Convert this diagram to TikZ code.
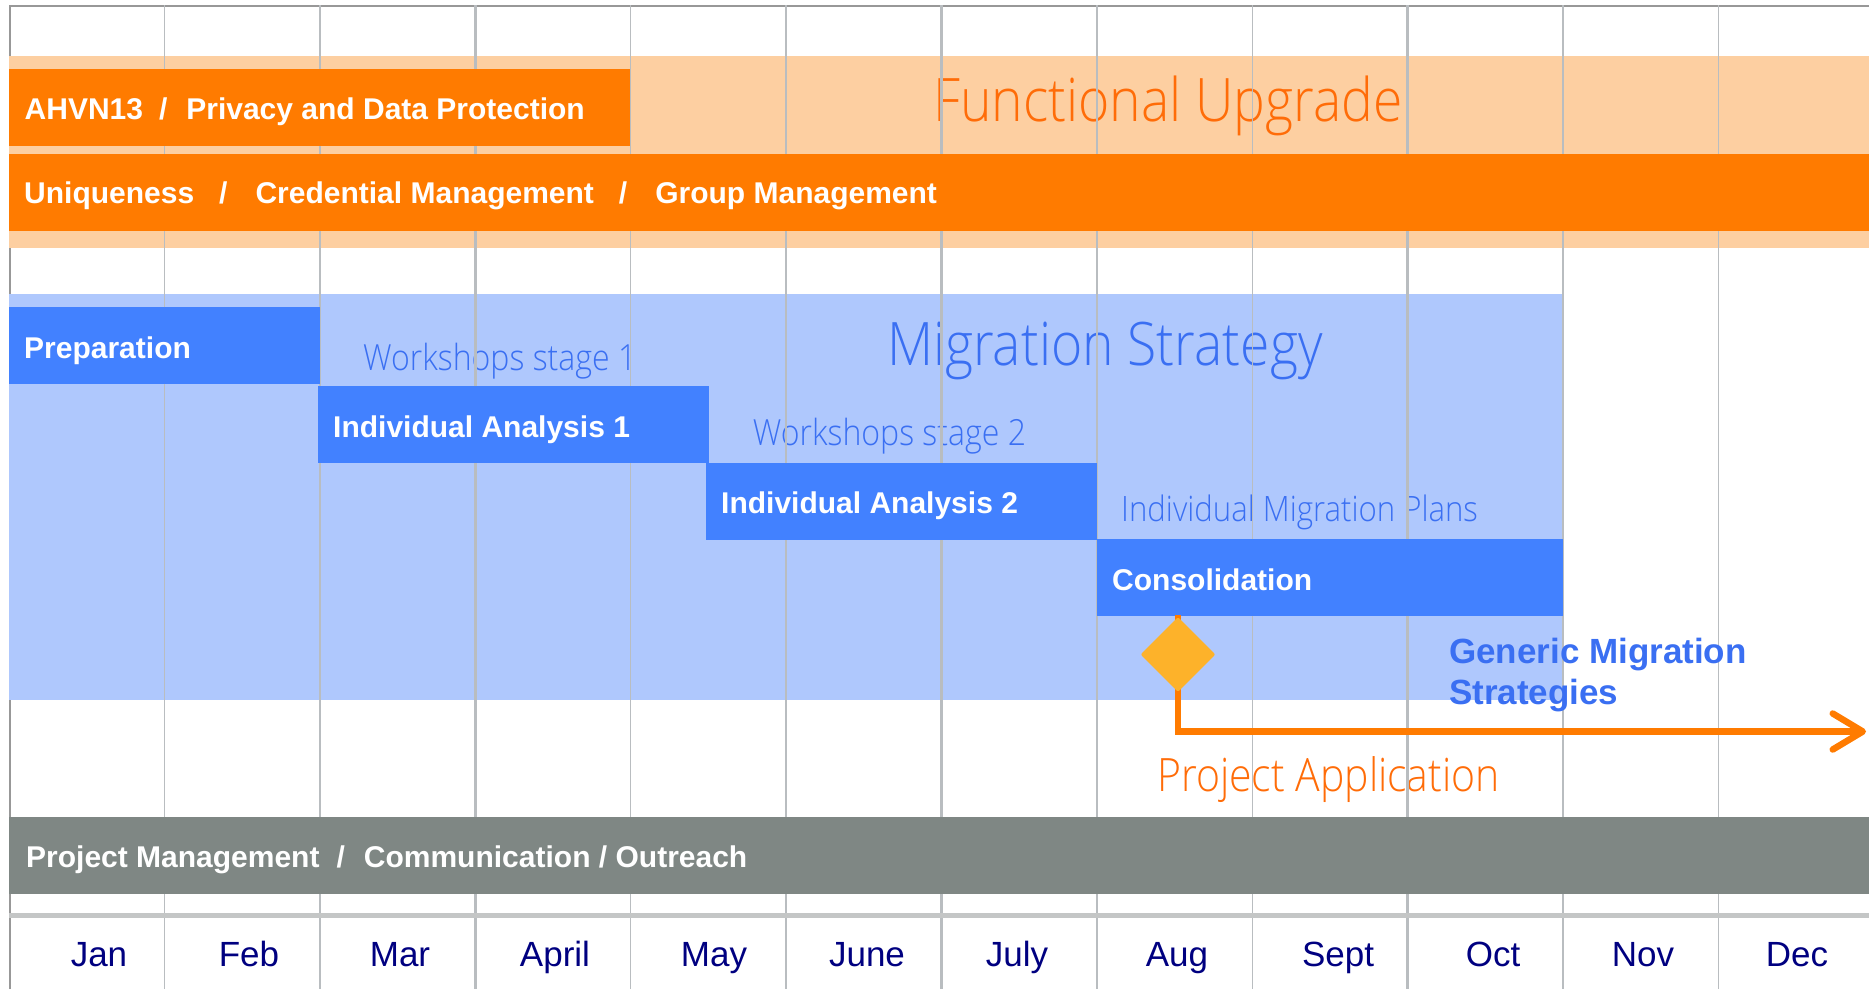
\documentclass[tikz,border=0pt]{standalone}
\usepackage{fontspec}
\setmainfont{Liberation Sans}
\IfFontExistsTF{Open Sans Light}
  {\newfontfamily\gillfont{Open Sans Light}[FakeStretch=0.89]}
  {\newfontfamily\gillfont{Open Sans}[FakeStretch=0.89]}
\usetikzlibrary{arrows.meta,shapes.geometric}

\definecolor{peach}{RGB}{253,207,161}
\definecolor{barorange}{RGB}{255,123,0}
\definecolor{txtorange}{RGB}{255,108,8}
\definecolor{paleblue}{RGB}{175,200,253}
\definecolor{barblue}{RGB}{66,129,255}
\definecolor{txtblue}{RGB}{58,111,242}
\definecolor{pmgray}{RGB}{127,135,132}
\definecolor{gridgray}{RGB}{185,189,192}
\definecolor{framegray}{RGB}{152,152,152}
\definecolor{rulegray}{RGB}{196,198,198}
\definecolor{monthblue}{RGB}{0,0,128}
\definecolor{msyellow}{RGB}{253,178,42}

\newcommand{\monthw}{155.4}
\newcommand{\barfont}{\fontsize{30}{36}\selectfont\bfseries}
\newcommand{\taskbar}[4]{%
    \fill[barblue] (#1,#2) rectangle (#3,{#2+77});
    \node[bartext] (#4) at ({#1+15},{#2+51})
}

\begin{document}
\begin{tikzpicture}[x=1pt,y=-1pt,
    bartext/.style={anchor=base west,inner sep=0pt,text=white,font=\barfont},
    thintext/.style={anchor=base west,inner sep=0pt,font=\gillfont\fontsize{#1}{#1}\selectfont},
    month/.style={anchor=base,inner sep=0pt,text=monthblue,font=\fontsize{35}{42}\selectfont}]

\useasboundingbox (0,0) rectangle (1869,989);

% outer frame, top and left
\draw [line width=2.5,framegray] (10,989) -- (10,6) -- (1869,6);

% background bands
\fill [peach] (9,56) rectangle (1869,248);
\fill [paleblue] (9,294) rectangle (1563,700);

% light headings (the grid runs over them)
\node [thintext=60,text=txtorange] (upgrade) at (933,121.7) {Functional Upgrade};
\node [thintext=60,text=txtblue] (strategy) at (887,365) {Migration Strategy};
\node [thintext=36,text=txtblue] (ws1) at (363,370) {Workshops stage 1};
\node [thintext=36,text=txtblue] (ws2) at (752.7,445) {Workshops stage 2};
\node [thintext=35,text=txtblue] (plans) at (1121,521.7) {Individual Migration Plans};
\node [thintext=46,text=txtorange] (projapp) at (1157,791.7) {Project Application};

% month grid, quarters thicker
\foreach \k in {1,...,11}
    \draw [line width=1.4,gridgray] ({9+\k*\monthw},5) -- ({9+\k*\monthw},989);
\foreach \k in {3,6,9}
    \draw [line width=3,gridgray] ({9+\k*\monthw},5) -- ({9+\k*\monthw},989);

% functional upgrade
\fill [barorange] (9,69) rectangle (630,145.7);
\node [bartext] (ahvn) at (24.5,119)
    {AHVN13\hspace{16pt}/\hspace{19pt}Privacy and Data Protection};
\fill [barorange] (9,154) rectangle (1869,231);
\node [bartext] (unique) at (24,203)
    {Uniqueness\hspace{25pt}/\hspace{28pt}Credential Management\hspace{25pt}/\hspace{28pt}Group Management};

% migration strategy tasks
\taskbar{9}{307}{320}{prep} {Preparation};
\taskbar{318}{386}{709}{ia1} {Individual Analysis 1};
\taskbar{706}{462.5}{1097}{ia2} {Individual Analysis 2};
\taskbar{1097}{539}{1563}{consol} {Consolidation};

% project application milestone
\coordinate (msfoot) at (1178,615);
\coordinate (msend) at (1866,731.5);
\draw [line width=6.5,barorange,-{Straight Barb[length=30pt,width=36pt,round]}]
    (msfoot) |- (msend);
\node [diamond,fill=msyellow,minimum width=75pt,minimum height=75pt,
    inner sep=0pt,rounded corners=2pt] (appl) at (1178,654.5) {};

% base anchor sits on the last line
\node [anchor=base west,inner sep=0pt,align=left,text=txtblue,
    font=\fontsize{35}{41}\selectfont\bfseries] (generic) at (1449,704)
    {Generic Migration\\Strategies};

% project management
\fill [pmgray] (9,816.7) rectangle (1869,893.5);
\node [bartext] (pm) at (26,867.5)
    {Project Management\hspace{17pt}/\hspace{19pt}Communication / Outreach};
\draw [line width=5.7,rulegray] (9,915.5) -- (1869,915.5);

% months
\foreach \m/\xc [count=\i] in {Jan/99,Feb/249,Mar/400,April/555,May/714,June/867,
        July/1017,Aug/1177,Sept/1338,Oct/1493,Nov/1643,Dec/1797}
    \node [month] (m\i) at (\xc,966) {\m};

\end{tikzpicture}
\end{document}
